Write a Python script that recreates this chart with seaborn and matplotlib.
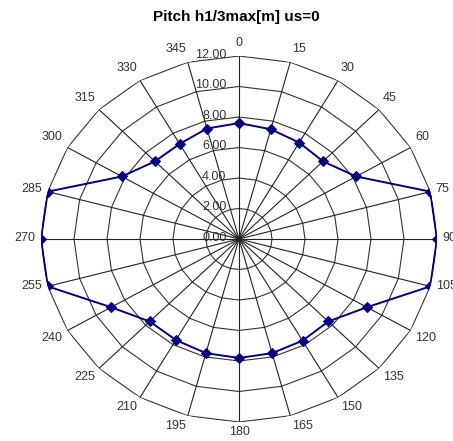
import numpy as np
import pandas as pd
import matplotlib
matplotlib.use("Agg")
import matplotlib.pyplot as plt
import seaborn as sns

# Direction of incidence (deg) and significant pitch height value per direction
directions = [0, 15, 30, 45, 60, 75, 90, 105, 120, 135, 150, 165,
              180, 195, 210, 225, 240, 255, 270, 285, 300, 315, 330, 345]
pitch = [7.6, 7.45, 7.3, 7.2, 8.2, 12.0, 12.0, 12.0, 8.95, 7.65, 7.7, 7.75,
         7.8, 7.75, 7.65, 7.65, 8.95, 12.0, 12.0, 12.0, 8.2, 7.2, 7.2, 7.5]
ring_values = [2, 4, 6, 8, 10, 12]
radial_labels = ["0.00", "2.00", "4.00", "6.00", "8.00", "10.00", "12.00"]
title = "Pitch h1/3max[m] us=0"

sns.set_style("white")
plt.rcParams["font.family"] = ["Liberation Sans", "DejaVu Sans"]

W, H = 453, 441
fig = plt.figure(figsize=(W / 100, H / 100), dpi=100)
ax = fig.add_axes([41 / W, 19 / H, 396 / W, 366 / H], projection="polar")
ax.set_aspect("auto")
ax.set_theta_zero_location("N")
ax.set_theta_direction(-1)
ax.set_ylim(0, 12)
ax.grid(False)
ax.spines["polar"].set_visible(False)
ax.set_xticks([])
ax.set_yticks([])
ax.patch.set_alpha(0)

theta = np.deg2rad(directions)
closed_theta = np.append(theta, 2 * np.pi)

# polygonal rings and spokes (radar style grid)
for r in ring_values:
    ax.plot(closed_theta, [r] * len(closed_theta), color="#333333", lw=0.8, zorder=1)
for t in theta:
    ax.plot([t, t], [0, ring_values[-1]], color="#222222", lw=0.8, zorder=1)

# data series, closed loop
df = pd.DataFrame({"theta": closed_theta, "pitch": pitch + [pitch[0]]})
sns.lineplot(data=df, x="theta", y="pitch", ax=ax, color="#000080", lw=1.4,
             marker="D", markersize=5, markeredgecolor="#000080", sort=False,
             zorder=3, legend=False)
ax.set_xlabel("")
ax.set_ylabel("")

# radial value labels along the 0 deg spoke
for r, lab in zip([0] + ring_values, radial_labels):
    ax.annotate(lab, xy=(0, r), xytext=(-9, 1), textcoords="offset points",
                ha="right", va="center", fontsize=9, color="#333333")

# direction labels around the outer ring
for d, t in zip(directions, theta):
    s, c = np.sin(t), np.cos(t)
    ha = "left" if s > 0.1 else ("right" if s < -0.1 else "center")
    va = "bottom" if c > 0.3 else ("top" if c < -0.3 else "center")
    ax.annotate(str(d), xy=(t, ring_values[-1]), xytext=(4 * s, 4 * c + 1),
                textcoords="offset points", ha=ha, va=va,
                fontsize=9, color="#333333", annotation_clip=False)

fig.text(236 / W, 1 - 17 / H, title, ha="center", va="center",
         fontsize=11, fontweight="bold", color="black")

fig.savefig("out.png", dpi=100)
